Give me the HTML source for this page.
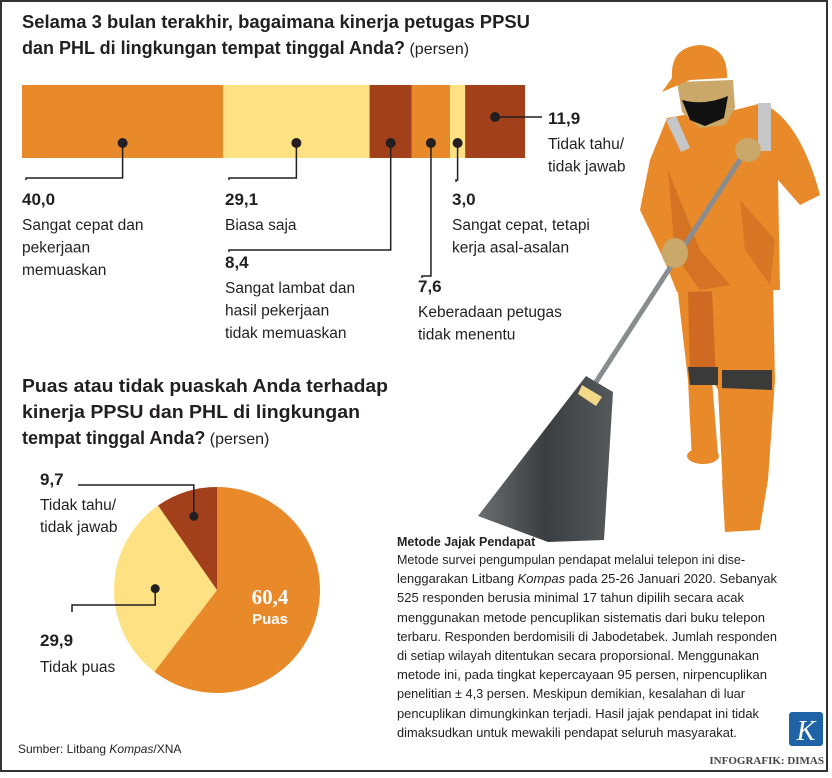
<!DOCTYPE html>
<html><head><meta charset="utf-8"><style>
html,body{margin:0;padding:0;background:#fff}
svg{display:block}
text{font-family:"Liberation Sans",sans-serif;fill:#231f20}
.b{font-weight:bold}
</style></head><body>
<svg id="c" width="832" height="778" viewBox="0 0 832 778" xmlns="http://www.w3.org/2000/svg">
<rect x="1" y="1" width="826" height="770" fill="#fff" stroke="#333" stroke-width="2"/>
<g>
 <defs><linearGradient id="br" x1="0" y1="0" x2="1" y2="0"><stop offset="0" stop-color="#6a6e70"/><stop offset="0.5" stop-color="#3a3e40"/><stop offset="1" stop-color="#55595b"/></linearGradient></defs>
 <!-- legs -->
 <path d="M677 285 L773 285 L775 380 L768 480 L760 528 L725 530 L722 470 L718 390 L712 380 L718 455 L692 460 L688 380 Z" fill="#e8892a"/>
 <path d="M688 290 L712 290 L716 380 L690 380 Z" fill="#d06a22"/>
 <path d="M688 367 L718 367 L718 385 L690 385 Z" fill="#3a3a38"/>
 <path d="M722 370 L772 370 L772 390 L722 388 Z" fill="#3a3a38"/>
 <ellipse cx="703" cy="456" rx="16" ry="8" fill="#e8892a"/>
 <path d="M722 480 L762 482 L760 530 L725 532 Z" fill="#e8892a"/>
 <!-- jacket -->
 <path d="M667 118 L700 112 L735 110 L762 103 Q800 120 820 195 L800 205 L778 180 L780 290 L677 292 L665 262 L640 210 L650 160 Z" fill="#e8892a"/>
 <path d="M668 170 L700 250 L730 285 L700 290 L675 255 Z" fill="#c4601f" opacity="0.55"/>
 <path d="M740 200 L775 240 L770 285 L745 250 Z" fill="#c4601f" opacity="0.45"/>
 <rect x="758" y="103" width="13" height="48" fill="#c5c7c8"/>
 <path d="M666 120 L676 116 L690 148 L681 152 Z" fill="#c5c7c8"/>
 <!-- head -->
 <path d="M677 82 L733 80 L735 108 L725 125 L700 128 L682 112 Z" fill="#c9a86a"/>
 <path d="M682 100 Q705 106 728 96 L724 118 L705 126 L690 120 Z" fill="#111"/>
 <path d="M672 78 Q670 47 700 45 Q728 47 727 78 L690 80 L662 92 Z" fill="#e8892a"/>
 <!-- broom -->
 <line x1="745" y1="152" x2="596" y2="382" stroke="#8a8d90" stroke-width="5"/>
 <path d="M586 376 L613 392 L604 540 L548 542 L478 516 Z" fill="url(#br)"/>
 <path d="M582 385 L602 397 L596 406 L578 394 Z" fill="#f2d98a"/>
 <!-- hands -->
 <ellipse cx="748" cy="150" rx="13" ry="12" fill="#c9a86a"/>
 <ellipse cx="675" cy="253" rx="13" ry="15" fill="#c9a86a"/>
</g>
<text class="b" x="22" y="28" font-size="18" textLength="508" lengthAdjust="spacingAndGlyphs">Selama 3 bulan terakhir, bagaimana kinerja petugas PPSU</text>
<text x="22" y="54" font-size="18"><tspan font-weight="bold">dan PHL di lingkungan tempat tinggal Anda?</tspan><tspan font-size="16"> (persen)</tspan></text>
<g id="bars"></g>
<g id="barlabels"></g>
<text class="b" x="22" y="392" font-size="18" textLength="366" lengthAdjust="spacingAndGlyphs">Puas atau tidak puaskah Anda terhadap</text>
<text class="b" x="22" y="418" font-size="18" textLength="338" lengthAdjust="spacingAndGlyphs">kinerja PPSU dan PHL di lingkungan</text>
<text x="22" y="444" font-size="18"><tspan font-weight="bold">tempat tinggal Anda?</tspan><tspan font-size="16"> (persen)</tspan></text>
<g id="pie"></g>
<text x="18" y="753" font-size="12">Sumber: Litbang <tspan font-style="italic">Kompas</tspan>/XNA</text>
<g font-size="12.5">
 <text class="b" x="397" y="546" font-size="12.5">Metode Jajak Pendapat</text>
 <text x="397" y="564" textLength="348" lengthAdjust="spacingAndGlyphs">Metode survei pengumpulan pendapat melalui telepon ini dise-</text>
 <text x="397" y="583" textLength="380" lengthAdjust="spacingAndGlyphs">lenggarakan Litbang <tspan font-style="italic">Kompas</tspan> pada 25-26 Januari 2020. Sebanyak</text>
 <text x="397" y="602" textLength="347" lengthAdjust="spacingAndGlyphs">525 responden berusia minimal 17 tahun dipilih secara acak</text>
 <text x="397" y="622" textLength="368" lengthAdjust="spacingAndGlyphs">menggunakan metode pencuplikan sistematis dari buku telepon</text>
 <text x="397" y="641" textLength="380" lengthAdjust="spacingAndGlyphs">terbaru. Responden berdomisili di Jabodetabek. Jumlah responden</text>
 <text x="397" y="660" textLength="362" lengthAdjust="spacingAndGlyphs">di setiap wilayah ditentukan secara proporsional. Menggunakan</text>
 <text x="397" y="679" textLength="370" lengthAdjust="spacingAndGlyphs">metode ini, pada tingkat kepercayaan 95 persen, nirpencuplikan</text>
 <text x="397" y="698" textLength="348" lengthAdjust="spacingAndGlyphs">penelitian ± 4,3 persen. Meskipun demikian, kesalahan di luar</text>
 <text x="397" y="718" textLength="362" lengthAdjust="spacingAndGlyphs">pencuplikan dimungkinkan terjadi. Hasil jajak pendapat ini tidak</text>
 <text x="397" y="737" textLength="340" lengthAdjust="spacingAndGlyphs">dimaksudkan untuk mewakili pendapat seluruh masyarakat.</text>
</g>
<rect x="789" y="712" width="34" height="34" rx="3" fill="#1d63a6"/>
<text x="806" y="740" font-size="28" text-anchor="middle" font-style="italic" style="fill:#fff;font-family:'Liberation Serif',serif">K</text>
<text x="824" y="764" font-size="11" text-anchor="end" style="font-family:'Liberation Serif',serif;fill:#444" font-weight="bold">INFOGRAFIK: DIMAS</text>
</svg>
<script>
const barCategories=["Sangat cepat dan pekerjaan memuaskan","Biasa saja","Sangat lambat dan hasil pekerjaan tidak memuaskan","Keberadaan petugas tidak menentu","Sangat cepat, tetapi kerja asal-asalan","Tidak tahu/tidak jawab"];
const barValues=[40.0,29.1,8.4,7.6,3.0,11.9];
const barValueLabels=["40,0","29,1","8,4","7,6","3,0","11,9"];
const barColors=["#e8892a","#fde182","#a3401c","#e8892a","#fde182","#a3401c"];
const pieCategories=["Puas","Tidak puas","Tidak tahu/tidak jawab"];
const pieValues=[60.4,29.9,9.7];
const pieValueLabels=["60,4","29,9","9,7"];
const pieColors=["#e8892a","#fde182","#a3401c"];

const NS="http://www.w3.org/2000/svg";
function mk(tag,attrs,parent){const e=document.createElementNS(NS,tag);for(const k in attrs)e.setAttribute(k,attrs[k]);parent.appendChild(e);return e;}
const X0=22,X1=525,BY=85,BH=73;
const total=barValues.reduce((a,b)=>a+b,0);
const xs=v=>X0+(v/total)*(X1-X0);
const bars=document.getElementById('bars');
const lab=document.getElementById('barlabels');
let acc=0;const mids=[];
barValues.forEach((v,i)=>{
  const r=mk('rect',{x:xs(acc),y:BY,width:xs(acc+v)-xs(acc),height:BH,fill:barColors[i]},bars);
  
  
  mids.push((xs(acc)+xs(acc+v))/2);acc+=v;
});
const layout=[[22,205,178,143,["Sangat cepat dan","pekerjaan","memuaskan"]],
 [225,205,178,143,["Biasa saja"]],
 [225,268,250,143,["Sangat lambat dan","hasil pekerjaan","tidak memuaskan"]],
 [418,292,276,143,["Keberadaan petugas","tidak menentu"]],
 [452,205,180,143,["Sangat cepat, tetapi","kerja asal-asalan"]],
 [548,124,null,117,["Tidak tahu/","tidak jawab"]]];
layout.forEach((L,i)=>{
  const [tx,vy,ty,dy,lines]=L;let dx=mids[i];
  if(i===5){mk('line',{x1:dx,y1:dy,x2:tx-6,y2:dy,stroke:'#231f20','stroke-width':1.5},lab);}
  else{mk('polyline',{points:`${dx},${dy} ${dx},${ty} ${tx+4},${ty} ${tx+4},${ty+2}`,fill:'none',stroke:'#231f20','stroke-width':1.5},lab);}
  const d=mk('circle',{cx:dx,cy:dy,r:5,fill:'#231f20'},lab);
  
  
  const t=mk('text',{x:tx,y:vy,'font-size':17,'font-weight':'bold'},lab);t.textContent=barValueLabels[i];
  
  
  lines.forEach((s,j)=>{const u=mk('text',{x:tx,y:vy+25+j*22.5,'font-size':15.5},lab);u.textContent=s;
    
    });
});
const pie=document.getElementById('pie');
const CX=217,CY=590,R=103;const ptot=pieValues.reduce((a,b)=>a+b,0);
let a0=0;const pt=a=>[CX+R*Math.sin(a),CY-R*Math.cos(a)];
const angMid=[];
pieValues.forEach((v,i)=>{
  const a1=a0+v/ptot*2*Math.PI;const p0=pt(a0),p1=pt(a1);
  const s=mk('path',{d:`M${CX},${CY} L${p0[0]},${p0[1]} A${R},${R} 0 ${a1-a0>Math.PI?1:0} 1 ${p1[0]},${p1[1]} Z`,fill:pieColors[i]},pie);
  
  
  angMid.push((a0+a1)/2);a0=a1;
});
let t=mk('text',{x:270,y:604,'font-size':21,'font-weight':'bold','text-anchor':'middle',style:"fill:#fff;font-family:'Liberation Serif',serif"},pie);t.textContent=pieValueLabels[0];


t=mk('text',{x:270,y:624,'font-size':15,'font-weight':'bold','text-anchor':'middle',style:'fill:#fff'},pie);t.textContent=pieCategories[0];


const m2=[CX+R*0.75*Math.sin(angMid[2]),CY-R*0.75*Math.cos(angMid[2])];
mk('polyline',{points:`78,485 ${m2[0]},485 ${m2[0]},${m2[1]}`,fill:'none',stroke:'#231f20','stroke-width':1.5},pie);
mk('circle',{cx:m2[0],cy:m2[1],r:4.5,fill:'#231f20'},pie);
t=mk('text',{x:40,y:485,'font-size':17,'font-weight':'bold'},pie);t.textContent=pieValueLabels[2];


["Tidak tahu/","tidak jawab"].forEach((s,j)=>{const u=mk('text',{x:40,y:510+j*22,'font-size':15.5},pie);u.textContent=s;
 
 });
const m1=[CX+R*0.6*Math.sin(angMid[1]),CY-R*0.6*Math.cos(angMid[1])];
mk('polyline',{points:`72,612 72,605 ${m1[0]},605 ${m1[0]},${m1[1]}`,fill:'none',stroke:'#231f20','stroke-width':1.5},pie);
mk('circle',{cx:m1[0],cy:m1[1],r:4.5,fill:'#231f20'},pie);
t=mk('text',{x:40,y:646,'font-size':17,'font-weight':'bold'},pie);t.textContent=pieValueLabels[1];


t=mk('text',{x:40,y:672,'font-size':15.5},pie);t.textContent=pieCategories[1];


</script>
</body></html>
